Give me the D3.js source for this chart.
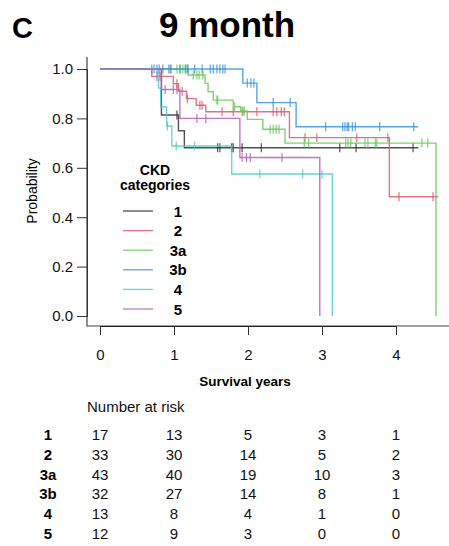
<!DOCTYPE html>
<html>
<head>
<meta charset="utf-8">
<script src="https://cdn.jsdelivr.net/npm/d3@7"></script>
<style>
  body { margin: 0; background: #fff; }
  text { font-family: "Liberation Sans", Arial, Helvetica, sans-serif; }
</style>
</head>
<body>
<script>
const m = { width: 449, height: 546 }

// CKD groups and their colours
const groups = ["1", "2", "3a", "3b", "4", "5"]
const colors = ["#333333", "#de5a6e", "#6ac95c", "#3b93dc", "#4fcad2", "#b462b8"]

// step times / survival after each step
const stepTimes = [
  [0.83, 1.06, 1.14],
  [0.70, 0.99, 1.06, 1.17, 1.30, 1.43, 2.56, 3.91],
  [1.19, 1.42, 1.46, 1.53, 1.80, 1.90, 1.99, 2.20, 2.50, 4.54],
  [1.93, 2.12, 2.65],
  [0.79, 0.82, 0.90, 0.97, 1.78, 3.14],
  [0.83, 1.08, 1.89, 2.97]
]
const stepSurv = [
  [0.814, 0.75, 0.681],
  [0.970, 0.940, 0.910, 0.880, 0.853, 0.827, 0.722, 0.483],
  [0.976, 0.942, 0.908, 0.874, 0.847, 0.83, 0.796, 0.756, 0.70, 0],
  [0.943, 0.864, 0.766],
  [0.923, 0.846, 0.769, 0.688, 0.575, 0],
  [0.917, 0.80, 0.642, 0]
]
// censoring times
const censorTimes = [
  [1.04, 1.59, 1.62, 1.78, 1.80, 1.92, 2.18, 3.24, 3.46, 4.23],
  [0.77, 0.81, 1.04, 1.11, 1.18, 1.35, 1.38, 1.65, 1.80, 1.93, 2.12, 2.34, 2.39, 2.45, 2.49, 2.77, 2.93, 3.47, 3.89, 4.04, 4.50],
  [0.95, 1.04, 1.08, 1.12, 1.15, 1.18, 1.26, 1.31, 1.34, 1.39, 1.58, 1.59, 1.82, 1.92, 1.95, 2.30, 2.34, 2.38, 2.42, 2.76, 2.82, 3.32, 3.35, 3.39, 3.58, 3.62, 3.72, 3.74, 4.35, 4.43],
  [0.70, 0.73, 0.77, 0.80, 0.85, 0.93, 0.96, 1.08, 1.16, 1.19, 1.28, 1.38, 1.49, 1.53, 1.58, 1.62, 1.66, 1.69, 1.99, 2.04, 2.08, 2.34, 2.57, 3.05, 3.28, 3.31, 3.34, 3.36, 3.41, 3.45, 3.78, 4.24],
  [0.91, 1.03, 1.28, 2.16, 2.74, 3.00],
  [0.88, 0.99, 1.04, 1.31, 1.43, 1.92, 1.98, 2.03, 2.46]
]
const endTimes = [4.30, 4.57, 4.54, 4.30, 3.14, 2.97]

// number at risk table
const riskTimes = [0, 1, 2, 3, 4]
const atRisk = [
  [17, 13, 5, 3, 1],
  [33, 30, 14, 5, 2],
  [43, 40, 19, 10, 3],
  [32, 27, 14, 8, 1],
  [13, 8, 4, 1, 0],
  [12, 9, 3, 0, 0]
]
const xTicks = [0, 1, 2, 3, 4]
const yTicks = [0, 0.2, 0.4, 0.6, 0.8, 1.0]

const svg = d3.select("body").append("svg")
    .attr("width", m.width)
    .attr("height", m.height)

const x = d3.scaleLinear().domain([0, 4]).range([100, 396])
const y = d3.scaleLinear().domain([0, 1]).range([316, 69])

// title + panel letter
svg.append("text").attr("x", 12).attr("y", 38)
    .attr("font-size", 29).attr("font-weight", "bold").text("C")
svg.append("text").attr("x", 227).attr("y", 37).attr("text-anchor", "middle")
    .attr("font-size", 35).attr("font-weight", "bold").text("9 month")

// box (left + bottom)
svg.append("path")
    .attr("d", "M87,57V326H449")
    .attr("fill", "none").attr("stroke", "#444").attr("stroke-width", 1.2)

// y axis
const yAxis = svg.append("g").attr("transform", "translate(87,0)")
    .call(d3.axisLeft(y).tickValues(yTicks).tickSize(10).tickPadding(4).tickFormat(d3.format(".1f")))
yAxis.select(".domain").attr("stroke", "#333")
yAxis.selectAll(".tick line").attr("stroke", "#333")
yAxis.selectAll("text").attr("font-size", 15).attr("fill", "#111")
    .style("font-family", '"Liberation Sans", Arial, sans-serif')

// x axis
const xAxis = svg.append("g").attr("transform", "translate(0,326)")
    .call(d3.axisBottom(x).tickValues(xTicks).tickSize(9).tickPadding(14).tickSizeOuter(0).tickFormat(d3.format("d")))
xAxis.select(".domain").attr("stroke", "#222")
xAxis.selectAll(".tick line").attr("stroke", "#333")
xAxis.selectAll("text").attr("font-size", 15).attr("fill", "#111")
    .style("font-family", '"Liberation Sans", Arial, sans-serif')

svg.append("text").attr("x", 245).attr("y", 386).attr("text-anchor", "middle")
    .attr("font-size", 13.5).attr("font-weight", "bold").text("Survival years")
svg.append("text").attr("transform", "translate(37,191) rotate(-90)")
    .attr("text-anchor", "middle").attr("font-size", 14).text("Probability")

// survival curves
const line = d3.line()
    .x(d => x(d[0]))
    .y(d => y(d[1]))
    .curve(d3.curveStepAfter)

function survAt(g, t) {
    let s = 1
    stepTimes[g].forEach((st, i) => { if (st <= t) s = stepSurv[g][i] })
    return s
}

groups.forEach((name, g) => {
    const pts = [[0, 1]]
    stepTimes[g].forEach((t, i) => pts.push([t, stepSurv[g][i]]))
    pts.push([endTimes[g], stepSurv[g][stepSurv[g].length - 1]])

    const grp = svg.append("g")
        .attr("stroke", colors[g])
        .attr("stroke-opacity", 0.85)

    grp.append("path")
        .attr("d", line(pts))
        .attr("fill", "none")
        .attr("stroke-width", 1.4)

    grp.selectAll(".cens")
        .data(censorTimes[g])
        .enter()
        .append("line")
            .attr("x1", d => x(d))
            .attr("x2", d => x(d))
            .attr("y1", d => y(survAt(g, d)) - 4.5)
            .attr("y2", d => y(survAt(g, d)) + 4.5)
            .attr("stroke-width", 1.2)
})

// legend
svg.append("text").attr("x", 155).attr("y", 175).attr("text-anchor", "middle")
    .attr("font-size", 14).attr("font-weight", "bold").text("CKD")
svg.append("text").attr("x", 155).attr("y", 190).attr("text-anchor", "middle")
    .attr("font-size", 14).attr("font-weight", "bold").text("categories")

const leg = svg.selectAll(".leg")
    .data(groups)
    .enter()
    .append("g")
        .attr("transform", (d, i) => `translate(0,${211 + i * 19.6})`)
leg.append("line")
    .attr("x1", 123).attr("x2", 153)
    .attr("stroke", (d, i) => colors[i]).attr("stroke-opacity", 0.85).attr("stroke-width", 1.3)
leg.append("text")
    .attr("x", 178).attr("y", 5.5).attr("text-anchor", "middle")
    .attr("font-size", 15).attr("font-weight", "bold")
    .text(d => d)

// number at risk
svg.append("text").attr("x", 87).attr("y", 412)
    .attr("font-size", 15).attr("fill", "#111").text("Number at risk")

const rows = svg.selectAll(".risk")
    .data(atRisk)
    .enter()
    .append("g")
        .attr("transform", (d, i) => `translate(0,${440 + i * 19.8})`)
rows.append("text")
    .attr("x", 48).attr("text-anchor", "middle")
    .attr("font-size", 15).attr("font-weight", "bold")
    .text((d, i) => groups[i])
rows.selectAll(".n")
    .data(d => d)
    .enter()
    .append("text")
        .attr("x", (d, i) => x(riskTimes[i]))
        .attr("text-anchor", "middle")
        .attr("font-size", 15).attr("fill", "#111")
        .text(d => d)
</script>
</body>
</html>
